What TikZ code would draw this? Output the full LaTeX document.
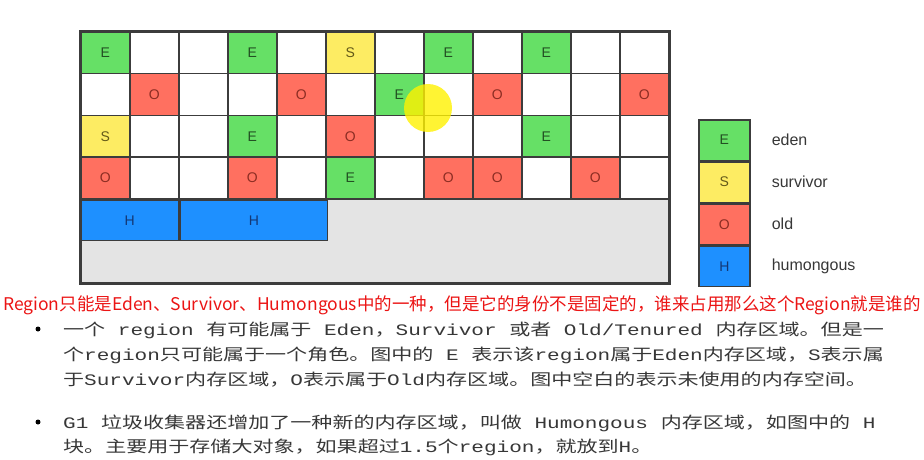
\documentclass[tikz,border=0pt]{standalone}
\usepackage{graphicx}
\usepackage{fontspec}
\setmainfont{Liberation Sans}
\setmonofont{Liberation Mono}
\newfontfamily\zhfont{Noto Sans CJK SC}
\usetikzlibrary{positioning}
\definecolor{edenfill}{RGB}{102,224,102}
\definecolor{edentext}{RGB}{35,80,35}
\definecolor{survfill}{RGB}{253,236,99}
\definecolor{survtext}{RGB}{100,90,25}
\definecolor{oldfill}{RGB}{255,112,96}
\definecolor{oldtext}{RGB}{140,45,35}
\definecolor{humfill}{RGB}{30,144,255}
\definecolor{humtext}{RGB}{20,55,115}
\definecolor{freefill}{RGB}{228,228,228}
\definecolor{gridline}{RGB}{60,60,60}
\definecolor{bodygray}{RGB}{55,55,55}
\definecolor{notered}{RGB}{235,20,20}
\newcommand\zh[1]{{\zhfont #1}}
\newcommand\wide[1]{\scalebox{1.315}[1]{#1}}
\tikzset{
  cell/.style={
    draw=gridline, line width=1.6pt, anchor=north west, inner sep=0pt,
    minimum width=49pt, minimum height=41.8pt, font=\fontsize{14}{14}\selectfont
  },
  cellN/.style={cell, fill=white},
  cellE/.style={cell, fill=edenfill, text=edentext},
  cellS/.style={cell, fill=survfill, text=survtext},
  cellO/.style={cell, fill=oldfill, text=oldtext},
  cellH/.style={cell, fill=humfill, text=humtext},
  freearea/.style={cell, fill=freefill, minimum width=588pt, minimum height=83.8pt},
  legtext/.style={font=\fontsize{16}{16}\selectfont, text=bodygray, inner sep=0pt},
  bodyline/.style={anchor=base west, inner sep=0pt, text=bodygray,
    font=\ttfamily\fontsize{16}{16}\selectfont},
  dot/.style={circle, fill=black, inner sep=0pt, minimum size=5pt},
}

\begin{document}
\begin{tikzpicture}[x=1pt,y=-1pt]
  \useasboundingbox (0,0) rectangle (924,460);

  % region grid
  \node[freearea] (free) at (80,198.2) {};
  \foreach \row [count=\r] in {{E,N,N,E,N,S,N,E,N,E,N,N},
                               {N,O,N,N,O,N,E,N,O,N,N,O},
                               {S,N,N,E,N,O,N,N,N,E,N,N},
                               {O,N,N,O,N,E,N,O,O,N,O,N}}
    \foreach \t [count=\c] in \row
      \node[cell\t] (c\r-\c) at ({80+49*(\c-1)},{31+41.8*(\r-1)}) {\if N\t\else\t\fi};
  \node[cellH, minimum width=98pt, minimum height=40pt] (h1) at (c4-1.south west) {H};
  \node[cellH, minimum width=147pt, minimum height=40pt] (h2) at (h1.north east) {H};
  \draw[draw=gridline, line width=1.8pt] (c1-1.north west) rectangle (free.south east);

  % cursor highlight
  \fill[yellow, opacity=0.8] (428,108) circle (24pt);

  % legend
  \node[cellE, minimum width=51pt, minimum height=40.5pt] (legE) at (698,119) {E};
  \node[cellS, minimum width=51pt, minimum height=40.5pt, below=0pt of legE] (legS) {S};
  \node[cellO, minimum width=51pt, minimum height=40.5pt, below=0pt of legS] (legO) {O};
  \node[cellH, minimum width=51pt, minimum height=40.5pt, below=0pt of legO] (legH) {H};
  \node[legtext, right=21pt of legE] (tE) {eden};
  \node[legtext, right=21pt of legS] (tS) {survivor};
  \node[legtext, right=21pt of legO] (tO) {old};
  \node[legtext, right=21pt of legH] (tH) {humongous};

  % notes
  \node[anchor=base west, inner sep=0pt, text=notered, font=\zhfont\fontsize{17.5}{17.5}\selectfont]
    (note) at (3,310) {Region只能是Eden、Survivor、Humongous中的一种，但是它的身份不是固定的，谁来占用那么这个Region就是谁的};

  \node[dot] (b1) at (38,329) {};
  \node[bodyline] (l1) at (63,335) {\wide{\zh{一个} region \zh{有可能属于} Eden\zh{，}Survivor \zh{或者} Old/Tenured \zh{内存区域。但是一}}};
  \node[bodyline] (l2) at (63,360) {\wide{\zh{个}region\zh{只可能属于一个角色。图中的} E \zh{表示该}region\zh{属于}Eden\zh{内存区域，}S\zh{表示属}}};
  \node[bodyline] (l3) at (63,385) {\wide{\zh{于}Survivor\zh{内存区域，}O\zh{表示属于}Old\zh{内存区域。图中空白的表示未使用的内存空间。}}};
  \node[dot] (b2) at (38,422) {};
  \node[bodyline] (l4) at (63,428) {\wide{G1 \zh{垃圾收集器还增加了一种新的内存区域，叫做} Humongous \zh{内存区域，如图中的} H}};
  \node[bodyline] (l5) at (63,452) {\wide{\zh{块。主要用于存储大对象，如果超过}1.5\zh{个}region\zh{，就放到}H\zh{。}}};
\end{tikzpicture}
\end{document}
